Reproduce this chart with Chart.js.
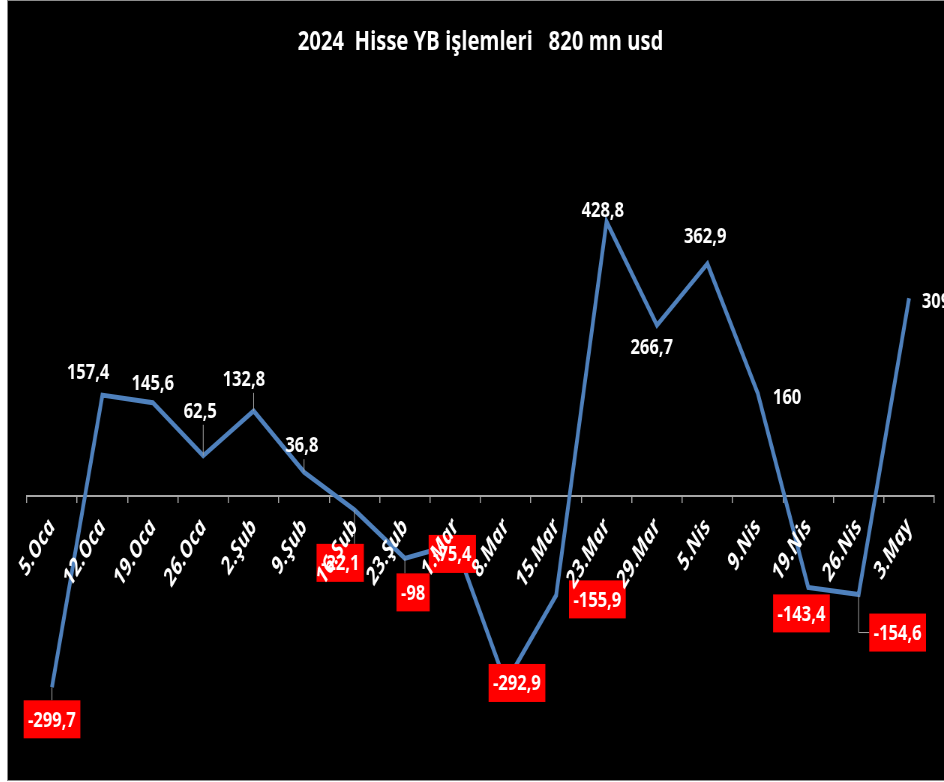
<!DOCTYPE html>
<html>
<head>
<meta charset="utf-8">
<script src="https://cdn.jsdelivr.net/npm/chart.js@4.4.1/dist/chart.umd.min.js"></script>
<style>
  html, body { margin: 0; padding: 0; background: #fff; }
  #box {
    position: absolute; left: 7px; top: 0;
    width: 936px; height: 779px;
    border: 1px solid #8c8c8c; border-right: none;
    background: #000; overflow: hidden;
  }
</style>
</head>
<body>
<div id="box">
  <!-- the original picture is squeezed horizontally, so the chart is drawn wider and shown at 936px -->
  <canvas id="c" width="1248" height="779" style="display:block;width:936px;height:779px"></canvas>
</div>
<script>
// --- data ---
const weeks = ['5.Oca', '12.Oca', '19.Oca', '26.Oca', '2.Şub', '9.Şub', '16.Şub', '23.Şub', '1.Mar',
    '8.Mar', '15.Mar', '23.Mar', '29.Mar', '5.Nis', '9.Nis', '19.Nis', '26.Nis', '3.May'];
const flows = [-299.7, 157.4, 145.6, 62.5, 132.8, 36.8, -22.1, -98, -75.4,
    -292.9, -155.9, 428.8, 266.7, 362.9, 160, -143.4, -154.6, 309];
const chartTitle = '2024  Hisse YB işlemleri   820 mn usd';

// label placement (like the hand-moved labels in the original)
const labelShift = [[0, 32], [-19, -23], [0, -20], [-4, -45], [-13, -32], [-3, -27], [-19, 53], [11, 34], [-4, 10],
    [15, 0], [55, 4], [-5, -12], [-7, 21], [-3, -28], [39, 3], [-9, 26], [52, 38], [36, 3]];
const hasLeader = [1, 0, 0, 1, 1, 1, 1, 1, 0, 0, 0, 0, 0, 0, 0, 0, 1, 0];

const fmt = v => String(v).replace('.', ',');

const valueLabels = {
    id: 'valueLabels',
    afterDatasetsDraw(chart) {
        const ctx = chart.ctx;
        const pts = chart.getDatasetMeta(0).data;
        ctx.save();
        ctx.font = 'bold 22px "Open Sans"';
        ctx.textAlign = 'center';
        ctx.textBaseline = 'middle';
        pts.forEach((p, i) => {
            const v = flows[i];
            const txt = fmt(v);
            const cx = p.x + labelShift[i][0];
            const cy = p.y + labelShift[i][1];
            const tw = ctx.measureText(txt).width;
            const neg = v < 0;
            const hw = neg ? tw / 2 + 6 : tw / 2 + 4;
            const hh = neg ? 19 : 14;
            const x0 = cx - hw, x1 = cx + hw, y0 = cy - hh, y1 = cy + hh;

            if (hasLeader[i]) {
                ctx.strokeStyle = '#a6a6a6';
                ctx.lineWidth = 1;
                ctx.beginPath();
                ctx.moveTo(p.x, p.y);
                if (p.x < x0 && p.y < y0) {
                    // elbow line
                    ctx.lineTo(p.x, cy);
                    ctx.lineTo(x0, cy);
                } else {
                    ctx.lineTo(Math.min(Math.max(p.x, x0), x1), Math.min(Math.max(p.y, y0), y1));
                }
                ctx.stroke();
            }
            if (neg) {
                ctx.fillStyle = '#ff0000';
                ctx.fillRect(x0, y0, x1 - x0, y1 - y0);
            }
            ctx.fillStyle = '#ffffff';
            ctx.fillText(txt, cx, cy + 1);
        });
        ctx.restore();
    }
};

new Chart(document.getElementById('c'), {
    type: 'line',
    data: {
        labels: weeks,
        datasets: [{
            data: flows,
            borderColor: '#4f81bd',
            borderWidth: 5,
            pointRadius: 0,
            tension: 0,
            fill: false
        }]
    },
    options: {
        responsive: false,
        devicePixelRatio: 1,
        animation: false,
        layout: { padding: { left: 25, right: 13, top: 0, bottom: 3 } },
        plugins: {
            legend: { display: false },
            tooltip: { enabled: false },
            title: {
                display: true,
                text: chartTitle,
                color: '#ffffff',
                font: { family: '"Open Sans"', size: 27, weight: 'bold' },
                padding: { top: 25, bottom: 41 }
            }
        },
        scales: {
            x: {
                position: { y: 0 },
                offset: true,
                afterFit: s => { s.height = 0; },
                grid: { display: true, offset: true, drawOnChartArea: false, color: '#a6a6a6', tickLength: 6, lineWidth: 1.5 },
                border: { color: '#a6a6a6', width: 2 },
                ticks: {
                    z: 1, // category names sit on top of the red boxes
                    color: '#ffffff',
                    autoSkip: false,
                    maxRotation: 52,
                    minRotation: 52,
                    padding: 12,
                    font: { family: '"Open Sans"', size: 24, weight: 'bold', style: 'italic' }
                }
            },
            y: {
                display: false,
                min: -440,
                max: 620
            }
        }
    },
    plugins: [valueLabels]
});
</script>
</body>
</html>
